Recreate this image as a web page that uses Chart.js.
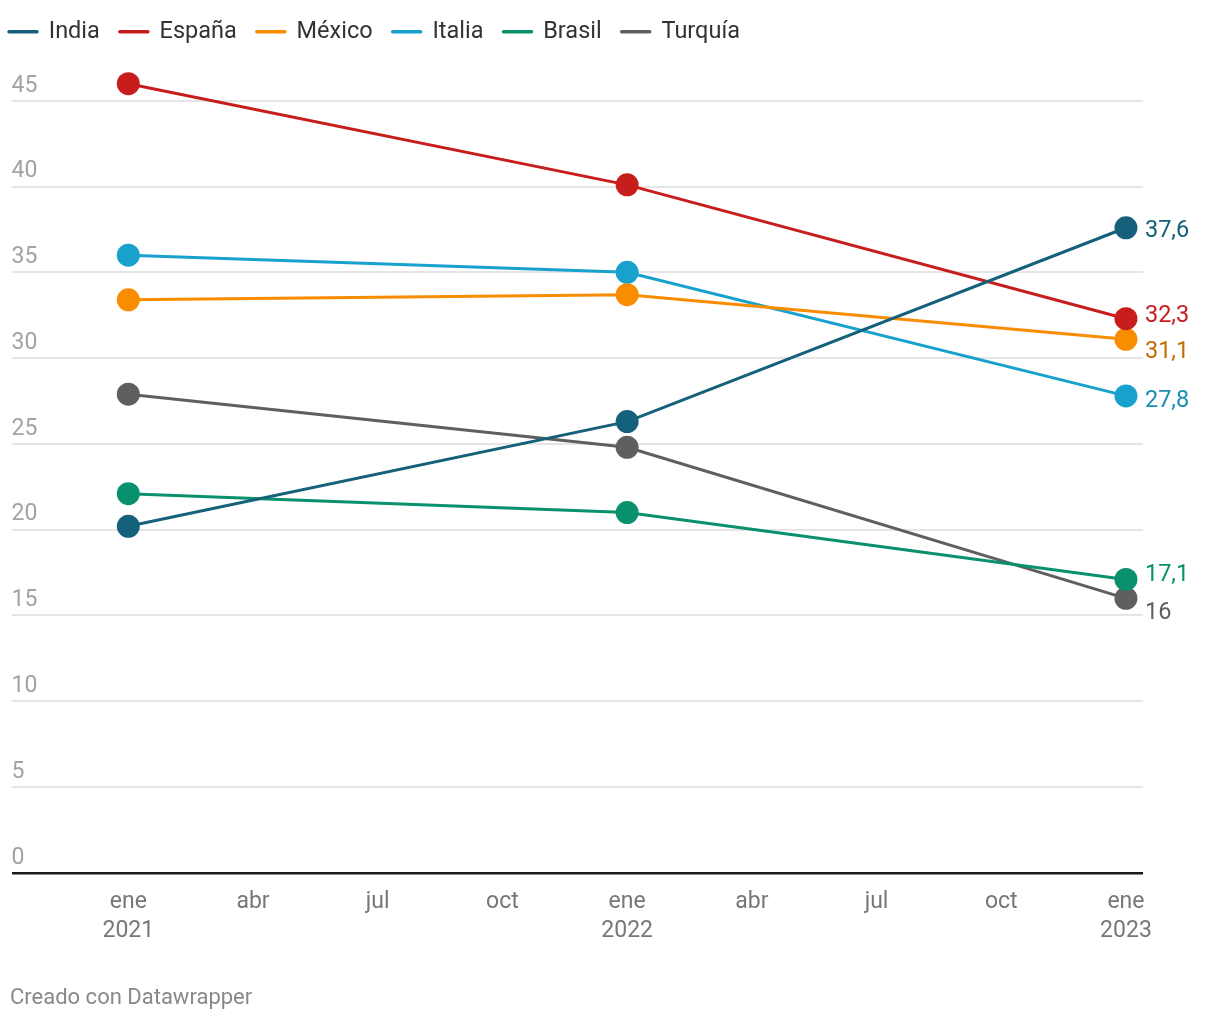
<!DOCTYPE html>
<html>
<head>
<meta charset="utf-8">
<script src="https://cdn.jsdelivr.net/npm/chart.js@4"></script>
<style>
  html, body { margin: 0; padding: 0; background: #fff; }
  #wrap { width: 1220px; height: 1020px; }
</style>
</head>
<body>
<div id="wrap"><canvas id="chart" width="1220" height="1020"></canvas></div>
<script>
// months counted from ene 2021
const months = [0, 12, 24];
const countries = ['India', 'España', 'México', 'Italia', 'Brasil', 'Turquía'];
const india = [20.2, 26.3, 37.6];
const espana = [46.0, 40.1, 32.3];
const mexico = [33.4, 33.7, 31.1];
const italia = [36.0, 35.0, 27.8];
const brasil = [22.1, 21.0, 17.1];
const turquia = [27.9, 24.8, 16];
const tickMonths = [0, 3, 6, 9, 12, 15, 18, 21, 24];
const tickLabels = [['ene', '2021'], 'abr', 'jul', 'oct', ['ene', '2022'], 'abr', 'jul', 'oct', ['ene', '2023']];
const yTicks = [0, 5, 10, 15, 20, 25, 30, 35, 40, 45];

// styles
const lineColors = ['#15607a', '#c71e1d', '#fa8c00', '#18a1cd', '#09916d', '#5f5f5f'];
const labelColors = ['#15607a', '#c71e1d', '#c56c00', '#1a8db3', '#09916d', '#5f5f5f'];
const labelShift = [3, -3, 13, 5, -4, 15];

const series = [india, espana, mexico, italia, brasil, turquia];

const datasets = countries.map((name, i) => ({
    label: name,
    data: series[i].map((v, j) => ({ x: months[j], y: v })),
    borderColor: lineColors[i],
    backgroundColor: lineColors[i],
    pointBackgroundColor: lineColors[i],
    borderWidth: 3,
    borderCapStyle: 'round',
    pointRadius: 11.5,
    pointHoverRadius: 11.5,
    pointBorderWidth: 0,
    clip: false,
    tension: 0
}));

// extra room under the legend, and legend pulled to the left edge
const legendGap = {
    id: 'legendGap',
    beforeInit(chart) {
        const fit = chart.legend.fit;
        chart.legend.fit = function() {
            fit.bind(chart.legend)();
            this.height += 13;
        };
    },
    afterLayout(chart) {
        chart.legend.left = -11;
        chart.legend.top = 0;
    }
};

const endLabels = {
    id: 'endLabels',
    afterDatasetsDraw(chart) {
        const ctx = chart.ctx;
        ctx.save();
        ctx.font = '23.5px Roboto';
        ctx.textAlign = 'left';
        ctx.textBaseline = 'middle';
        chart.data.datasets.forEach((ds, i) => {
            const meta = chart.getDatasetMeta(i);
            const last = meta.data[meta.data.length - 1];
            const v = ds.data[ds.data.length - 1].y;
            ctx.fillStyle = labelColors[i];
            ctx.fillText(String(v).replace('.', ','), last.x + 19, last.y + labelShift[i]);
        });
        ctx.restore();
    }
};

new Chart(document.getElementById('chart'), {
    type: 'line',
    data: { datasets },
    plugins: [legendGap, endLabels],
    options: {
        responsive: false,
        animation: false,
        events: [],
        layout: { padding: { left: 10, right: 77, top: 0, bottom: 8 } },
        plugins: {
            legend: {
                position: 'top',
                align: 'start',
                labels: {
                    usePointStyle: true,
                    pointStyle: 'line',
                    pointStyleWidth: 28,
                    padding: 20,
                    color: '#333',
                    font: { family: 'Roboto', size: 23.5 },
                    generateLabels: chart => Chart.defaults.plugins.legend.labels.generateLabels(chart)
                        .map(l => ({ ...l, lineWidth: 3.5, strokeStyle: l.fillStyle, lineCap: 'round' }))
                }
            },
            subtitle: {
                display: true,
                position: 'bottom',
                align: 'start',
                text: 'Creado con Datawrapper',
                color: '#888',
                font: { family: 'Roboto', size: 22, weight: 'normal' },
                padding: { top: 33, bottom: 0 }
            },
            tooltip: { enabled: false }
        },
        scales: {
            x: {
                type: 'linear',
                min: -2.81,
                max: 24.41,
                afterBuildTicks: scale => { scale.ticks = tickMonths.map(v => ({ value: v })); },
                grid: { display: false },
                border: { display: false },
                ticks: {
                    autoSkip: false,
                    maxRotation: 0,
                    padding: 6,
                    color: '#777',
                    font: { family: 'Roboto', size: 23, lineHeight: 1.3 },
                    callback: v => tickLabels[tickMonths.indexOf(v)]
                }
            },
            y: {
                min: 0,
                max: 47,
                afterBuildTicks: scale => { scale.ticks = yTicks.map(v => ({ value: v })); },
                border: { display: false },
                grid: {
                    drawTicks: false,
                    color: ctx => ctx.tick.value === 0 ? '#1a1a1a' : '#e5e5e5',
                    lineWidth: ctx => ctx.tick.value === 0 ? 2.5 : 2
                },
                ticks: {
                    mirror: true,
                    padding: 0,
                    labelOffset: -15,
                    color: '#a3a3a3',
                    font: { family: 'Roboto', size: 23 }
                }
            }
        }
    }
});
</script>
</body>
</html>
